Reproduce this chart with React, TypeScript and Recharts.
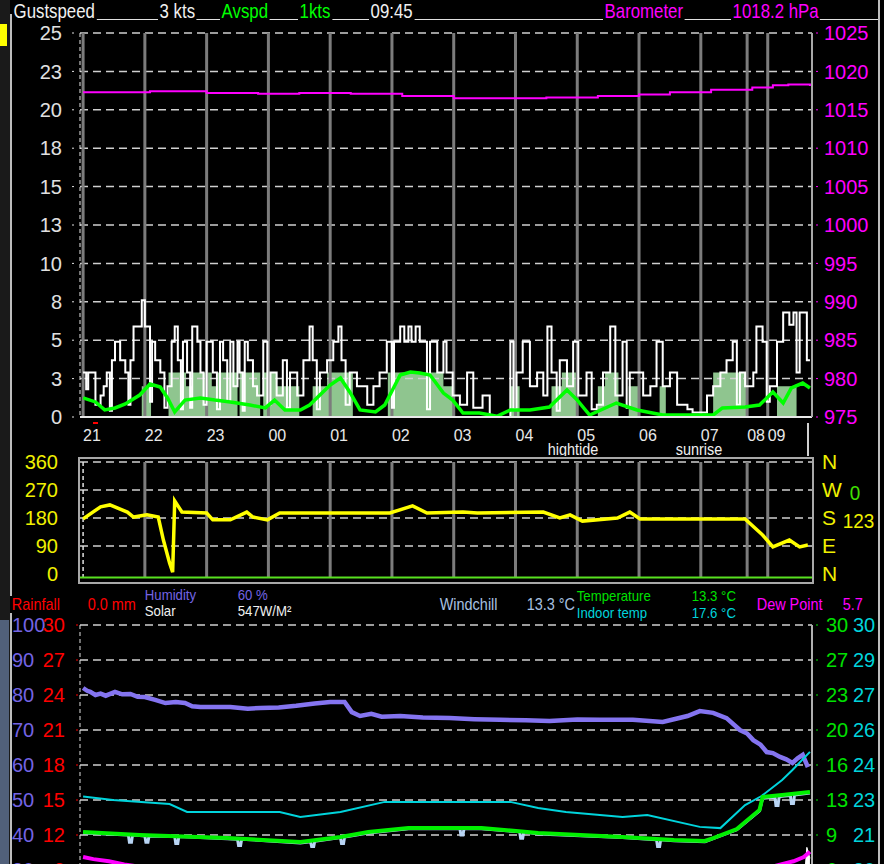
import React from 'react';
import { ComposedChart, Line, Area, XAxis, YAxis, ReferenceLine } from 'recharts';

// ---------- time axis (minutes after 21:00 on the display scale) ----------
const hourTicks = [0, 60, 120, 180, 240, 300, 360, 420, 480, 540, 600, 645, 665];
const hourLabels = ['21', '22', '23', '00', '01', '02', '03', '04', '05', '06', '07', '08', '09'];
const X_DOMAIN: [number, number] = [-3, 708];

// ---------- wind speed panel ----------
const speedTicks = [0, 2.5, 5, 7.5, 10, 12.5, 15, 17.5, 20, 22.5, 25];
const baroTicks = [975, 980, 985, 990, 995, 1000, 1005, 1010, 1015, 1020, 1025];

const gustSpeed: [number, number][] = [
  [0, 2.9], [3, 1.8], [5, 2.9], [12, 0.8], [17, 1.4], [20, 2.0], [23, 2.9], [26, 0.4], [28, 3.7], [31, 4.9],
  [36, 3.7], [41, 2.9], [44, 0.8], [46, 3.7], [49, 5.9], [57, 7.6], [60, 5.9], [65, 1.0], [67, 4.9], [70, 3.7],
  [75, 2.9], [79, 0.6], [82, 2.0], [86, 4.9], [89, 5.9], [92, 3.7], [95, 0.5], [97, 4.9], [101, 2.9], [104, 0.6],
  [106, 5.9], [111, 4.9], [114, 2.9], [117, 0.8], [120, 4.9], [126, 2.9], [130, 0.5], [133, 4.9], [136, 3.7], [140, 1.0],
  [143, 4.9], [146, 2.0], [150, 4.9], [152, 2.9], [155, 0.4], [157, 4.9], [160, 3.7], [165, 2.0], [169, 1.4], [175, 4.9],
  [179, 0.8], [182, 2.9], [188, 1.4], [194, 3.7], [198, 0.6], [201, 2.9], [208, 1.4], [214, 3.7], [220, 5.9], [223, 3.7],
  [227, 0.5], [230, 2.9], [237, 3.7], [243, 4.9], [248, 5.9], [251, 3.7], [255, 0.8], [259, 2.9], [266, 2.0], [276, 0.8],
  [282, 2.0], [288, 2.9], [295, 4.9], [300, 0.6], [302, 4.9], [308, 5.9], [312, 4.9], [316, 5.9], [319, 4.9], [323, 5.9],
  [327, 4.9], [334, 0.5], [337, 4.9], [344, 2.9], [350, 4.9], [353, 2.9], [359, 1.4], [366, 0.8], [373, 2.9], [379, 0.6],
  [388, 1.4], [395, 0], [415, 4.9], [418, 0.5], [421, 2.9], [427, 4.9], [434, 2.0], [441, 2.9], [447, 1.4], [451, 5.9],
  [455, 2.9], [460, 0.4], [463, 3.7], [470, 2.0], [476, 4.9], [481, 1.4], [489, 2.9], [494, 0.5], [499, 0.8], [505, 2.9],
  [512, 5.9], [517, 1.4], [524, 4.9], [528, 0.6], [531, 2.9], [544, 1.4], [551, 2.0], [557, 4.9], [563, 2.0], [570, 2.9],
  [577, 0.8], [587, 0.5], [592, 0.3], [606, 1.4], [612, 2.0], [619, 2.9], [625, 3.7], [631, 4.9], [635, 0.8], [638, 2.9],
  [643, 2.0], [651, 2.9], [654, 5.9], [660, 4.9], [664, 1.0], [667, 2.0], [674, 4.9], [680, 6.8], [686, 6.0], [690, 6.8],
  [693, 2.9], [696, 6.8], [703, 3.7], [706, 3.7],
];

const windSpeed: [number, number][] = [
  [0, 0], [57, 2.0], [66, 0], [83, 2.9], [100, 2.0], [106, 2.9], [125, 2.0], [131, 2.9], [150, 0], [152, 2.9],
  [172, 0], [175, 2.9], [188, 2.0], [210, 0], [223, 2.0], [237, 2.9], [262, 0], [296, 2.9], [350, 2.0], [360, 0],
  [415, 2.0], [424, 0], [455, 2.0], [465, 2.9], [480, 0], [500, 2.0], [507, 2.9], [520, 0], [530, 2.0], [540, 0],
  [560, 2.0], [566, 0], [612, 2.9], [645, 0], [674, 2.0], [693, 0], [706, 0],
];

const avgSpeed: [number, number][] = [
  [0, 1.24], [12, 0.98], [21, 0.46], [31, 0.59], [41, 0.85], [55, 1.43], [65, 2.15], [75, 1.95], [82, 1.24], [89, 0.33],
  [99, 1.1], [114, 1.24], [128, 1.1], [143, 0.98], [162, 0.78], [177, 0.59], [186, 1.1], [196, 0.46], [211, 0.46], [220, 0.78],
  [230, 1.43], [240, 2.08], [250, 2.54], [259, 1.63], [269, 0.46], [284, 0.33], [293, 0.78], [303, 2.08], [308, 2.73], [318, 2.93],
  [327, 2.86], [337, 2.73], [350, 1.56], [359, 1.1], [369, 0.26], [385, 0.26], [402, 0.05], [415, 0.46], [434, 0.46], [453, 0.65],
  [470, 1.76], [480, 1.1], [492, 0.13], [518, 0.91], [538, 0.46], [563, 0.13], [612, 0.13], [621, 0.59], [643, 0.65], [657, 0.78],
  [670, 1.63], [680, 0.91], [688, 1.89], [699, 2.21], [706, 1.89],
];

const barometer: [number, number][] = [
  [0, 1017.3], [65, 1017.4], [120, 1017.2], [170, 1017.1], [210, 1017.2], [260, 1017.1], [310, 1016.8], [360, 1016.5],
  [410, 1016.5], [450, 1016.6], [500, 1016.8], [540, 1017.0], [570, 1017.3], [610, 1017.6], [650, 1017.9], [670, 1018.2],
  [685, 1018.3], [706, 1018.1],
];

// ---------- wind direction panel ----------
const dirTicks = [0, 90, 180, 270, 360];
const compassLabels: Record<number, string> = { 0: 'N', 90: 'E', 180: 'S', 270: 'W', 360: 'N' };
const windDir: [number, number][] = [
  [0, 177], [17, 216], [26, 222], [43, 199], [49, 183], [62, 190], [73, 183], [78, 109], [84, 35], [87, 6],
  [89, 235], [96, 199], [120, 196], [126, 174], [143, 174], [159, 199], [165, 183], [179, 174], [191, 196], [243, 196],
  [298, 196], [320, 219], [334, 196], [369, 199], [383, 196], [447, 199], [463, 180], [473, 190], [485, 170], [519, 180],
  [531, 199], [541, 177], [643, 177], [660, 125], [670, 87], [686, 109], [696, 87], [704, 93],
];

// ---------- temperature / humidity panel ----------
const humTicks = [10, 20, 30, 40, 50, 60, 70, 80, 90, 100];
const greenTickLabels = ['30', '27', '23', '20', '16', '13', '9', '6', '3', '0'];
const cyanTickLabels = ['30', '29', '27', '26', '24', '23', '21', '20', '19', '17'];

const humidity: [number, number][] = [
  [0, 82.0], [4, 81.2], [7, 80.9], [12, 80.0], [17, 80.4], [22, 79.8], [31, 80.9], [38, 80.2], [46, 80.3], [53, 79.5],
  [60, 79.4], [70, 78.6], [80, 77.7], [90, 78.0], [99, 77.7], [106, 76.8], [114, 76.6], [143, 76.6], [160, 76.1],
  [172, 76.3], [190, 76.4], [207, 76.9], [225, 77.6], [240, 78.0], [254, 78.0], [261, 75.1], [269, 74.0], [280, 74.6],
  [290, 73.8], [308, 74.0], [330, 73.6], [356, 73.4], [380, 73.1], [405, 72.9], [430, 72.8], [453, 72.6], [480, 73.0],
  [502, 72.9], [534, 72.9], [563, 72.3], [587, 74.0], [599, 75.4], [612, 74.9], [625, 73.4], [638, 70.0], [645, 69.0],
  [651, 67.1], [658, 65.8], [664, 63.7], [670, 63.4], [677, 62.3], [683, 61.6], [689, 60.6], [694, 61.9], [699, 62.9],
  [704, 59.4],
];

const indoorTemp: [number, number][] = [
  [0, 23.0], [29, 22.86], [84, 22.69], [101, 22.37], [191, 22.37], [211, 22.16], [250, 22.37], [293, 22.78], [415, 22.78],
  [442, 22.53], [469, 22.37], [524, 22.16], [548, 22.24], [599, 21.76], [619, 21.71], [643, 22.65], [659, 23.02],
  [679, 23.67], [689, 24.08], [706, 24.82],
];

const outdoorTemp: [number, number][] = [
  [0, 10.29], [55, 10.0], [140, 9.71], [211, 9.33], [250, 9.81], [277, 10.29], [316, 10.67], [387, 10.67], [442, 10.19],
  [524, 9.81], [574, 9.52], [604, 9.43], [612, 9.71], [635, 10.57], [657, 12.38], [660, 13.62], [679, 13.81], [706, 14.1],
];

const windChill: [number, number][] = [
  [0, 10.2], [44, 10.0], [45, 9.3], [47, 9.3], [48, 10.0], [55, 9.95], [60, 9.9], [61, 9.3], [63, 9.3], [64, 9.9],
  [89, 9.85], [90, 9.2], [92, 9.2], [93, 9.85], [140, 9.65], [150, 9.6], [151, 9.0], [153, 9.0], [154, 9.6], [211, 9.25],
  [221, 9.35], [222, 8.9], [224, 8.9], [225, 9.4], [250, 9.75], [251, 9.2], [253, 9.2], [254, 9.8], [277, 10.2],
  [316, 10.6], [366, 10.6], [367, 10.0], [369, 10.0], [370, 10.6], [387, 10.6], [424, 10.3], [425, 9.7], [427, 9.7],
  [428, 10.3], [442, 10.1], [524, 9.75], [557, 9.55], [558, 8.9], [560, 8.9], [561, 9.55], [574, 9.45], [604, 9.35],
  [612, 9.65], [635, 10.5], [657, 12.3], [660, 13.5], [672, 13.6], [673, 12.8], [675, 12.8], [676, 13.6], [679, 13.7],
  [687, 13.75], [688, 13.0], [690, 13.0], [691, 13.8], [706, 14.0],
];

const dewPoint: [number, number][] = [
  [0, 7.9], [10, 7.7], [25, 7.5], [40, 7.2], [60, 6.9], [100, 6.4], [200, 6.0], [400, 5.5], [600, 5.5], [650, 6.3],
  [670, 7.0], [690, 7.5], [700, 7.9], [706, 8.4],
];

const solar: [number, number][] = [
  [0, 0], [690, 0], [695, 200], [700, 380], [703, 547], [706, 500],
];

const toRows = (arr: [number, number][]) => arr.map(([t, v]) => ({ t, v }));

const FONT = '"Liberation Sans", Arial, sans-serif';

const HourTick = (props: any) => {
  const { x, y, payload } = props;
  const i = hourTicks.indexOf(payload.value);
  return (
    <text x={x} y={y} dy={13} fill="#e8e8e8" fontSize={16} textAnchor="start" fontFamily={FONT}>
      {hourLabels[i]}
    </text>
  );
};

const HumTick = (props: any) => {
  const { x, y, payload } = props;
  const v = payload.value;
  return (
    <g fontFamily={FONT} fontSize={20}>
      <text x={12} y={y} dy={7} fill="#7464e4" textAnchor="start">{v}</text>
      <text x={x} y={y} dy={7} fill="#ff0000" textAnchor="end">{Math.round(v * 0.3)}</text>
    </g>
  );
};

const TempTick = (props: any) => {
  const { x, y, index } = props;
  return (
    <g fontFamily={FONT} fontSize={20}>
      <text x={x} y={y} dy={7} fill="#00e000" textAnchor="start">{greenTickLabels[index]}</text>
      <text x={x + 27} y={y} dy={7} fill="#00d4dc" textAnchor="start">{cyanTickLabels[index]}</text>
    </g>
  );
};

const Txt = ({ x, y, c, s = 16, sx = 0.88, children, bg = true }: any) => (
  <div
    style={{
      position: 'absolute', left: x, top: y, color: c, fontSize: s, lineHeight: 1, whiteSpace: 'nowrap',
      transform: `scaleX(${sx})`, transformOrigin: 'left top', background: bg ? '#000' : 'transparent',
      padding: '0 2px', fontFamily: FONT,
    }}
  >
    {children}
  </div>
);

const dash = '8 5';
const greenTicks = greenTickLabels.map((_, i) => 30 - (i * 10) / 3);

export default function App() {
  return (
    <div style={{ position: 'fixed', left: 0, top: 0, width: 884, height: 864, overflow: 'hidden', background: '#000', fontFamily: FONT }}>
      {/* left window strip */}
      <div style={{ position: 'absolute', left: 0, top: 0, width: 10, height: 864, background: '#1a1a1a' }} />
      <div style={{ position: 'absolute', left: 0, top: 24, width: 7, height: 22, background: '#ffff00' }} />
      <div style={{ position: 'absolute', left: 0, top: 620, width: 9, height: 244, background: '#51607a' }} />
      <div style={{ position: 'absolute', left: 10, top: 14, width: 2, height: 850, background: '#bdbdbd' }} />
      <div style={{ position: 'absolute', left: 878, top: 0, width: 2, height: 864, background: '#bdbdbd' }} />

      {/* header row */}
      <div style={{ position: 'absolute', left: 12, top: 19, width: 866, height: 1, background: '#e0e0e0' }} />
      <Txt x={12} y={0} c="#f0f0f0" s={21} sx={0.8}>Gustspeed</Txt>
      <Txt x={158} y={0} c="#f0f0f0" s={21} sx={0.8}>3 kts</Txt>
      <Txt x={220} y={0} c="#00ff00" s={21} sx={0.8}>Avspd</Txt>
      <Txt x={298} y={0} c="#00ff00" s={21} sx={0.8}>1kts</Txt>
      <Txt x={369} y={0} c="#f0f0f0" s={21} sx={0.8}>09:45</Txt>
      <Txt x={603} y={0} c="#ff00ff" s={21} sx={0.8}>Barometer</Txt>
      <Txt x={731} y={0} c="#ff00ff" s={21} sx={0.8}>1018.2 hPa</Txt>

      {/* wind speed + barometer */}
      <div style={{ position: 'absolute', left: 0, top: 0 }}>
        <ComposedChart width={884} height={460} margin={{ top: 33, right: 0, bottom: 13, left: 0 }}>
          <XAxis type="number" dataKey="t" domain={X_DOMAIN} ticks={hourTicks} interval={0} tick={<HourTick />}
            tickLine={false} tickSize={0} tickMargin={11} height={30} allowDataOverflow
            axisLine={{ stroke: '#e8e8e8', strokeWidth: 2 }} />
          <YAxis yAxisId="w" domain={[0, 25]} ticks={speedTicks} interval={0} width={80} allowDataOverflow
            tickFormatter={(v: number) => String(Math.round(v))}
            tick={{ fill: '#e0e0e0', fontSize: 20 }} tickSize={8} tickMargin={10}
            tickLine={{ stroke: '#e0e0e0', strokeDasharray: '2 8' }}
            axisLine={{ stroke: '#e8e8e8', strokeDasharray: '4 3' }} />
          <YAxis yAxisId="b" orientation="right" domain={[975, 1025]} ticks={baroTicks} interval={0} width={72} allowDataOverflow
            tick={{ fill: '#ff00ff', fontSize: 20 }} tickSize={6} tickMargin={6}
            tickLine={{ stroke: '#ff00ff', strokeDasharray: '2 8' }}
            axisLine={{ stroke: '#a8a8a8', strokeWidth: 2 }} />
          {speedTicks.filter((v) => v > 0).map((v) => (
            <ReferenceLine key={'g' + v} yAxisId="w" y={v} stroke="#d0d0d0" strokeWidth={1.5} strokeDasharray={dash} />
          ))}
          {hourTicks.map((h) => (
            <ReferenceLine key={'h' + h} yAxisId="w" x={h} stroke="#7c7c7c" strokeWidth={3} />
          ))}
          <Area yAxisId="w" data={toRows(windSpeed)} dataKey="v" type="stepAfter" stroke="none" fill="#8fc58f" fillOpacity={1} isAnimationActive={false} />
          <Line yAxisId="w" data={toRows(gustSpeed)} dataKey="v" type="stepAfter" stroke="#ffffff" strokeWidth={2} dot={false} isAnimationActive={false} />
          <Line yAxisId="w" data={toRows(avgSpeed)} dataKey="v" type="linear" stroke="#00ff00" strokeWidth={3.5} dot={false} isAnimationActive={false} />
          <Line yAxisId="b" data={toRows(barometer)} dataKey="v" type="stepAfter" stroke="#ff00ff" strokeWidth={2} dot={false} isAnimationActive={false} />
        </ComposedChart>
      </div>
      <div style={{ position: 'absolute', left: 93, top: 422, width: 5, height: 2, background: '#ff0000' }} />
      <div style={{ position: 'absolute', left: 807, top: 423, width: 2, height: 33, background: '#d0d0d0' }} />
      <div style={{ position: 'absolute', left: 546, top: 442, width: 70, height: 14, overflow: 'hidden' }}>
        <Txt x={0} y={0} c="#f0f0f0" s={16} sx={0.9} bg={false}>hightide</Txt>
      </div>
      <div style={{ position: 'absolute', left: 674, top: 442, width: 70, height: 14, overflow: 'hidden' }}>
        <Txt x={0} y={0} c="#f0f0f0" s={16} sx={0.9} bg={false}>sunrise</Txt>
      </div>

      {/* wind direction */}
      <div style={{ position: 'absolute', left: 78, top: 457, width: 732, height: 123, border: '2px solid #a8a8a8' }} />
      <div style={{ position: 'absolute', left: 0, top: 440 }}>
        <ComposedChart width={884} height={160} margin={{ top: 22, right: 0, bottom: 22, left: 0 }}>
          <XAxis type="number" dataKey="t" domain={X_DOMAIN} hide allowDataOverflow />
          <YAxis yAxisId="d" domain={[-13, 360]} ticks={dirTicks} interval={0} width={80} allowDataOverflow
            tick={{ fill: '#f0f000', fontSize: 20 }} tickSize={8} tickMargin={14} tickLine={false} axisLine={false} />
          <YAxis yAxisId="c" orientation="right" domain={[-13, 360]} ticks={dirTicks} interval={0} width={72} allowDataOverflow
            tickFormatter={(v: number) => compassLabels[v]}
            tick={{ fill: '#f0f000', fontSize: 21 }} tickSize={4} tickMargin={6} tickLine={false} axisLine={false} />
          {dirTicks.filter((v) => v > 0).map((v) => (
            <ReferenceLine key={'dg' + v} yAxisId="d" y={v} stroke="#d0d0d0" strokeWidth={1.5} strokeDasharray={dash} />
          ))}
          {hourTicks.map((h, i) => (
            <ReferenceLine key={'dh' + h} yAxisId="d" x={h} stroke={i === 0 ? '#e0e0e0' : '#7c7c7c'} strokeWidth={i === 0 ? 1.5 : 3}
              strokeDasharray={i === 0 ? '4 3' : undefined} />
          ))}
          <ReferenceLine yAxisId="d" y={-11} stroke="#58e020" strokeWidth={2} />
          <Line yAxisId="d" data={toRows(windDir)} dataKey="v" type="linear" stroke="#ffff00" strokeWidth={3.5} dot={false} isAnimationActive={false} />
        </ComposedChart>
      </div>
      <Txt x={848} y={482} c="#40e000" s={21} sx={0.9} bg={false}>0</Txt>
      <Txt x={841} y={510} c="#f0f000" s={21} sx={0.9} bg={false}>123</Txt>

      {/* labels row */}
      <Txt x={10} y={596} c="#ff0000" s={17} sx={0.85}>Rainfall</Txt>
      <Txt x={86} y={596} c="#ff0000" s={17} sx={0.85}>0.0 mm</Txt>
      <Txt x={143} y={587} c="#7464e4" s={15} sx={0.88} bg={false}>Humidity</Txt>
      <Txt x={236} y={587} c="#7464e4" s={15} sx={0.88} bg={false}>60 %</Txt>
      <Txt x={143} y={603} c="#f0f0f0" s={15} sx={0.88} bg={false}>Solar</Txt>
      <Txt x={236} y={603} c="#f0f0f0" s={15} sx={0.88} bg={false}>547W/M²</Txt>
      <Txt x={438} y={596} c="#a8c0e0" s={17} sx={0.85} bg={false}>Windchill</Txt>
      <Txt x={525} y={596} c="#a8c0e0" s={17} sx={0.85} bg={false}>13.3 °C</Txt>
      <Txt x={575} y={588} c="#00e000" s={15} sx={0.88} bg={false}>Temperature</Txt>
      <Txt x={575} y={605} c="#00d4dc" s={15} sx={0.88} bg={false}>Indoor temp</Txt>
      <Txt x={690} y={588} c="#00e000" s={15} sx={0.88} bg={false}>13.3 °C</Txt>
      <Txt x={690} y={605} c="#00d4dc" s={15} sx={0.88} bg={false}>17.6 °C</Txt>
      <Txt x={755} y={596} c="#ff00ff" s={17} sx={0.85} bg={false}>Dew Point</Txt>
      <Txt x={841} y={596} c="#ff00ff" s={17} sx={0.85} bg={false}>5.7</Txt>

      {/* temperature / humidity */}
      <div style={{ position: 'absolute', left: 0, top: 600 }}>
        <ComposedChart width={884} height={400} margin={{ top: 25, right: 0, bottom: 25, left: 0 }}>
          <XAxis type="number" dataKey="t" domain={X_DOMAIN} hide allowDataOverflow />
          <YAxis yAxisId="h" domain={[0, 100]} ticks={humTicks} interval={0} width={80} allowDataOverflow
            tick={<HumTick />} tickSize={4} tickMargin={11}
            tickLine={{ stroke: '#ff0000', strokeDasharray: '2 4' }}
            axisLine={{ stroke: '#e0e0e0', strokeDasharray: '4 3' }} />
          <YAxis yAxisId="g" orientation="right" domain={[-10 / 3, 30]} ticks={greenTicks} interval={0} width={72} allowDataOverflow
            tick={<TempTick />} tickSize={6} tickMargin={8}
            tickLine={{ stroke: '#00e000', strokeDasharray: '2 6' }}
            axisLine={{ stroke: '#b0b0b0', strokeWidth: 2 }} />
          <YAxis yAxisId="i" domain={[30 - 100 / 7, 30]} hide allowDataOverflow />
          <YAxis yAxisId="s" domain={[0, 1500]} hide allowDataOverflow />
          {humTicks.map((v) => (
            <ReferenceLine key={'hg' + v} yAxisId="h" y={v} stroke="#d0d0d0" strokeWidth={1.5} strokeDasharray={dash} />
          ))}
          <Area yAxisId="s" data={toRows(solar)} dataKey="v" type="linear" stroke="#ffffff" fill="#ffffff" fillOpacity={1} isAnimationActive={false} />
          <Line yAxisId="g" data={toRows(dewPoint)} dataKey="v" type="linear" stroke="#ff00ff" strokeWidth={4} dot={false} isAnimationActive={false} />
          <Line yAxisId="h" data={toRows(humidity)} dataKey="v" type="linear" stroke="#8474f0" strokeWidth={4.5} dot={false} isAnimationActive={false} />
          <Line yAxisId="i" data={toRows(indoorTemp)} dataKey="v" type="linear" stroke="#00d4dc" strokeWidth={2} dot={false} isAnimationActive={false} />
          <Line yAxisId="g" data={toRows(windChill)} dataKey="v" type="linear" stroke="#b8d4f4" strokeWidth={3} dot={false} isAnimationActive={false} />
          <Line yAxisId="g" data={toRows(outdoorTemp)} dataKey="v" type="linear" stroke="#00f000" strokeWidth={4} dot={false} isAnimationActive={false} />
        </ComposedChart>
      </div>
    </div>
  );
}
